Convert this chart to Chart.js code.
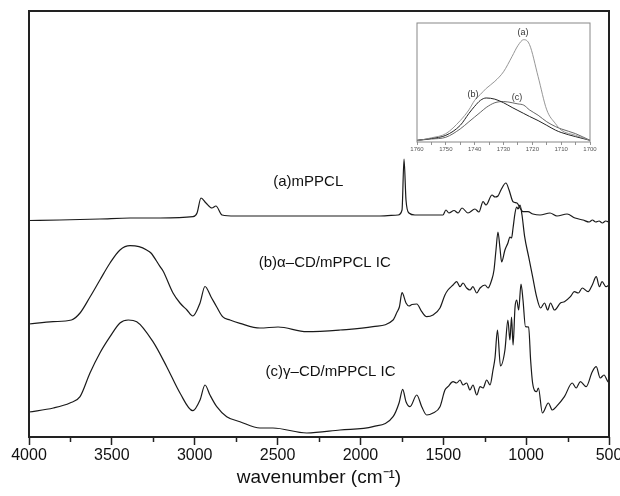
<!DOCTYPE html>
<html><head><meta charset="utf-8">
<script src="https://cdn.jsdelivr.net/npm/chart.js@4"></script>
<style>
html,body{margin:0;padding:0;background:#fff;}
#wrap{position:relative;width:620px;height:496px;overflow:hidden;}
#main{position:absolute;left:0;top:0;}
#inset{position:absolute;left:410px;top:17px;}
</style></head><body>
<div id="wrap"><canvas id="main" width="620" height="496"></canvas><canvas id="inset" width="190" height="145"></canvas></div>
<script>
// ---- main spectra (wavenumber, cm-1 ; relative absorbance, offset traces) ----
const waveA = [4000,3813,3572,3390,3209,3010,2986,2962,2932,2896,2872,2835,2757,2365,1882,1773,1749,1737,1725,1707,1671,1502,1484,1466,1435,1411,1387,1351,1309,1285,1260,1242,1206,1188,1170,1152,1122,1103,1079,1055,1037,1019,989,959,916,856,814,753,705,657,620,600,580,560,540,520,500];
const absA  = [216.5,217,218,219,219,220.3,224,239,234,229,231,222,221,221,221,222,227,278,237,224,222,222,227,224,226.5,224,229,224,228,225,235.3,232,242,240,241,247,254,247,235.3,234,229,225.3,225.3,223,222,224,221,223,219,217,215,217,215,216,214,216,215];

const waveB = [4000,3855,3744,3692,3632,3572,3511,3451,3390,3336,3290,3264,3209,3191,3131,3089,3047,3012,2968,2938,2902,2868,2832,2787,2727,2606,2497,2324,2123,1924,1803,1779,1765,1749,1725,1707,1689,1660,1630,1600,1562,1520,1490,1472,1441,1419,1399,1381,1359,1339,1321,1298,1278,1248,1230,1208,1194,1182,1170,1158,1148,1128,1110,1098,1088,1079,1067,1057,1049,1037,1025,1009,985,961,937,913,889,870,853,829,793,769,733,709,685,661,626,601,577,558,542,518,500];
const absB  = [113,115.3,117,124,140,157,174,187,191.3,190.3,187,184,170.3,166,144,134,127,121,134,150.5,140.3,130.3,120.3,117,113.7,109,110,105.3,107,110.3,117,125,130,144.3,134,131,132.5,133,125.3,120.3,122,129,142,147,152,155.3,150.3,154,149,147,150.3,144,149,152,149,157,167,187,205,189,175,187,194,200,199,209,224,230,228,232,222,200.3,180.3,160.3,140.3,129,134,127,134,127,134,135.3,140.3,145.3,144,149,145.3,152,160.3,150.3,155.3,150.3,152];

const waveC = [4000,3853,3753,3692,3632,3572,3511,3451,3401,3350,3252,3169,3089,3012,2968,2938,2908,2867,2807,2727,2606,2528,2324,2123,1924,1803,1767,1745,1725,1701,1660,1630,1600,1562,1520,1490,1472,1441,1419,1399,1381,1359,1339,1321,1298,1278,1260,1238,1218,1200,1188,1173,1155,1128,1110,1098,1088,1079,1067,1057,1045,1031,1019,1004,985,973,961,937,926,902,866,842,818,769,722,698,673,638,601,577,553,530,506,500];
const absC  = [25,29,34,40.3,64,84,100.3,114,117,115.3,95.3,70.3,44,26.3,37,52,42,30.3,20.3,15.3,9,9,4,7,10.3,20.3,34,47.7,35.3,30.3,42,30.3,22,24,30.3,47,50.3,55.3,54,57,52,54,47,52,42,50.3,49,57,52,67,79,107,71,87,117,97,120,92,130,137,127,153,137,110.3,110,77,54,45.3,49,24,34,27,30.3,40.3,54,49,55.3,50.3,65.3,70.3,59,62,55.3,55];

const xTicksMajor = [4000,3500,3000,2500,2000,1500,1000,500];
const xTicksMinor = [3750,3250,2750,2250,1750,1250,750];

// ---- inset: carbonyl region (normalised) ----
const insetWave = [1760,1755,1750,1745,1742,1740,1738,1736,1733,1730,1727,1725,1723,1721,1718,1715,1712,1710,1705,1700];
const insetA = [0.01,0.035,0.07,0.18,0.27,0.35,0.40,0.45,0.51,0.59,0.72,0.81,0.86,0.82,0.55,0.27,0.155,0.10,0.056,0.014];
const insetB = [0.014,0.03,0.056,0.14,0.24,0.30,0.35,0.37,0.36,0.33,0.29,0.265,0.24,0.215,0.18,0.14,0.10,0.08,0.045,0.014];
const insetC = [0.014,0.025,0.04,0.11,0.17,0.21,0.25,0.29,0.33,0.34,0.33,0.32,0.31,0.27,0.225,0.17,0.13,0.11,0.07,0.014];

const seriesNames = ['(a)mPPCL','(b)\u03b1\u2013CD/mPPCL IC','(c)\u03b3\u2013CD/mPPCL IC'];

const pts = (w, v) => w.map((x, i) => ({x: x, y: v[i]}));

const FONT = '"Liberation Sans", Arial, sans-serif';

const framePlugin = {
  id: 'frame',
  afterDraw(chart, args, opts) {
    const {ctx, chartArea: a, scales} = chart;
    ctx.save();
    if (opts.minor) {
      ctx.strokeStyle = opts.color; ctx.lineWidth = opts.tickWidth;
      opts.minor.forEach(v => {
        const x = Math.round(scales.x.getPixelForValue(v)) + 0.5;
        ctx.beginPath(); ctx.moveTo(x, a.bottom); ctx.lineTo(x, a.bottom + opts.minorLen); ctx.stroke();
      });
    }
    ctx.strokeStyle = opts.color; ctx.lineWidth = opts.width;
    ctx.strokeRect(a.left, a.top, a.right - a.left, a.bottom - a.top);
    (opts.labels || []).forEach(l => {
      ctx.font = l.font; ctx.fillStyle = l.color || '#111';
      ctx.textAlign = 'center'; ctx.textBaseline = 'middle';
      ctx.fillText(l.text, scales.x.getPixelForValue(l.x), scales.y.getPixelForValue(l.y));
    });
    ctx.restore();
  }
};

const lineDs = (label, w, v, color, width) => ({
  label, data: pts(w, v), borderColor: color, borderWidth: width,
  pointRadius: 0, fill: false, cubicInterpolationMode: 'monotone'
});

new Chart(document.getElementById('main'), {
  type: 'line',
  data: { datasets: [
    lineDs(seriesNames[0], waveA, absA, '#1a1a1a', 1.2),
    lineDs(seriesNames[1], waveB, absB, '#1a1a1a', 1.2),
    lineDs(seriesNames[2], waveC, absC, '#1a1a1a', 1.2)
  ]},
  options: {
    responsive: false, animation: false, devicePixelRatio: 1,
    layout: { padding: { left: 29, right: 11, top: 11, bottom: 0 } },
    plugins: {
      legend: { display: false }, tooltip: { enabled: false },
      frame: {
        color: '#222', width: 2, tickWidth: 1.5, minorLen: 5, minor: xTicksMinor,
        labels: [
          { text: seriesNames[0], x: 2315, y: 255, font: '15px ' + FONT },
          { text: seriesNames[1], x: 2215, y: 174, font: '15px ' + FONT },
          { text: seriesNames[2], x: 2180, y: 65, font: '15px ' + FONT }
        ]
      }
    },
    scales: {
      x: {
        type: 'linear', reverse: true, min: 500, max: 4000,
        afterFit(s) { s.height = 59; s.paddingLeft = 0; s.paddingRight = 0; },
        afterBuildTicks(s) { s.ticks = xTicksMajor.map(v => ({value: v})); },
        ticks: { font: { family: FONT, size: 16 }, color: '#111', padding: 1, maxRotation: 0, autoSkip: false,
                 callback: v => String(v) },
        grid: { drawOnChartArea: false, drawTicks: true, tickLength: 8, tickColor: '#222', tickWidth: 1.5 },
        border: { display: false },
        title: { display: true, text: 'wavenumber (cm\u207b\u00b9)', font: { family: FONT, size: 19 }, color: '#111', padding: { top: 0, bottom: 7 } }
      },
      y: { display: false, min: 0, max: 426 }
    }
  },
  plugins: [framePlugin]
});

new Chart(document.getElementById('inset'), {
  type: 'line',
  data: { datasets: [
    lineDs('(a)', insetWave, insetA, '#8a8a8a', 0.9),
    lineDs('(b)', insetWave, insetB, '#222', 1),
    lineDs('(c)', insetWave, insetC, '#555', 0.9)
  ]},
  options: {
    responsive: false, animation: false, devicePixelRatio: 1,
    layout: { padding: { left: 7, right: 10, top: 6, bottom: 0 } },
    plugins: {
      legend: { display: false }, tooltip: { enabled: false },
      frame: {
        color: '#888', width: 1,
        labels: [
          { text: '(a)', x: 1723.2, y: 0.92, font: '9px ' + FONT, color: '#333' },
          { text: '(b)', x: 1740.6, y: 0.395, font: '9px ' + FONT, color: '#333' },
          { text: '(c)', x: 1725.3, y: 0.378, font: '9px ' + FONT, color: '#333' }
        ]
      }
    },
    scales: {
      x: {
        type: 'linear', reverse: true, min: 1700, max: 1760,
        afterFit(s) { s.height = 20; s.paddingLeft = 0; s.paddingRight = 0; },
        ticks: { stepSize: 5, autoSkip: false, maxRotation: 0, font: { family: FONT, size: 6 }, color: '#555', padding: 1,
                 callback: v => (v % 10 === 0 ? String(v) : '') },
        grid: { drawOnChartArea: false, drawTicks: true, tickLength: 3, tickColor: '#777', tickWidth: 0.8 },
        border: { display: false }
      },
      y: { display: false, min: 0, max: 1 }
    }
  },
  plugins: [framePlugin]
});
</script>
</body></html>
